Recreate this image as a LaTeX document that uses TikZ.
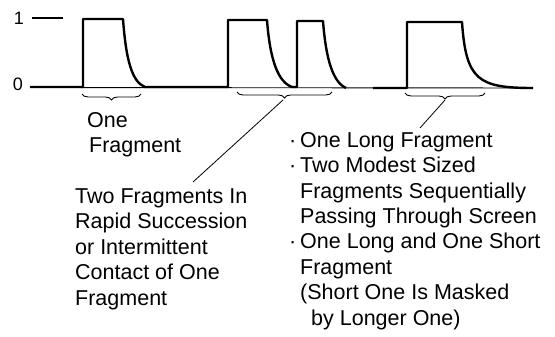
\documentclass[tikz,border=0pt]{standalone}
\usepackage{fontspec}
\setmainfont{Liberation Sans}
\usetikzlibrary{decorations.pathreplacing,calc}
\tikzstyle{sig}=[line width=2.4pt,line join=round]
\tikzstyle{ax}=[line width=0.9pt]
\tikzstyle{brc}=[line width=0.9pt,decorate,decoration={brace,mirror,amplitude=6pt}]
\tikzstyle{lead}=[line width=0.8pt]
\tikzstyle{txt}=[inner sep=0pt,anchor=base west,align=left,font=\fontsize{21.5}{25.4}\selectfont]
\tikzstyle{lvl}=[inner sep=0pt,font=\fontsize{18}{20}\selectfont]
\newcommand\bul{\makebox[11pt][l]{·}}
\begin{document}
\begin{tikzpicture}[x=1pt,y=-1pt]
    \useasboundingbox (0,0) rectangle (555,337);
    % levels
    \node (one) [lvl] at (19,18) {1};
    \node (zero) [lvl] at (18,84) {0};
    \draw[line width=1.2pt] (32,18) -- (63,18);
    \draw[ax] (30,87.5) -- (533,88);
    % signal
    \draw[sig] (30,87) -- (83,87) -- (83,19) -- (123,19)
        .. controls (126,60) and (132,82) .. (145,87) -- (228,87) -- (228,20) -- (267,20)
        .. controls (270,60) and (278,82) .. (292,87) -- (297,87) -- (297,21) -- (323,21)
        .. controls (326,60) and (333,82) .. (346,88);
    \draw[sig] (373,88) -- (407,88) -- (407,22) -- (462,22)
        .. controls (466,80) and (478,88) .. (533,88);
    % braces
    \draw[brc] (82,94) -- (141,94);
    \draw[brc] (237,92) -- (332,92);
    \draw[brc] (405,93) -- (485,93);
    \coordinate (tipB) at (283,100);
    \coordinate (tipC) at (445,100);
    % texts (anchored at the baseline of the last line)
    \node (onefrag) [txt] at (87,153) {One\\\hspace*{2pt}Fragment};
    \node (twofrag) [txt] at (75,305) {Two Fragments In\\Rapid Succession\\or Intermittent\\Contact of One\\Fragment};
    \node (longfrag) [txt] at (289,325) {\bul One Long Fragment\\\bul Two Modest Sized\\\hspace*{11pt}Fragments Sequentially\\\hspace*{11pt}Passing Through Screen\\\bul One Long and One Short\\\hspace*{11pt}Fragment\\\hspace*{11pt}(Short One Is Masked\\\hspace*{22pt}by Longer One)};
    \coordinate (endB) at (193,182);
    \coordinate (endC) at (420,128);
    \draw[lead] (tipB) -- (endB);
    \draw[lead] (tipC) -- (endC);
\end{tikzpicture}
\end{document}
